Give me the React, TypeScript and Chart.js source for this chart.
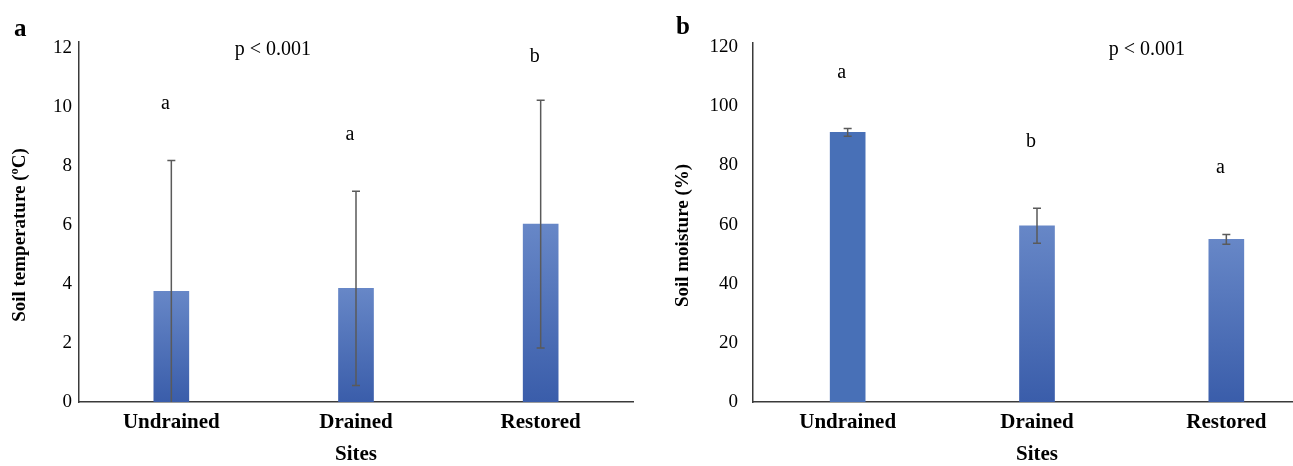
import React, { useEffect, useRef } from "react";
import { Chart, registerables } from "chart.js";
Chart.register(...registerables);

const categories = ["Undrained", "Drained", "Restored"];

const tempMeans = [3.75, 3.85, 6.03];
const tempErrors = [4.43, 3.29, 4.2];
const tempLetters = ["a", "a", "b"];
const tempLetterLevels = [10.1, 9.05, 11.7];
const tempTicks = [0, 2, 4, 6, 8, 10, 12];

const moistMeans = [91.2, 59.6, 55.0];
const moistErrors = [1.3, 5.9, 1.65];
const moistLetters = ["a", "b", "a"];
const moistLetterLevels = [111.5, 88.1, 79.3];
const moistTicks = [0, 20, 40, 60, 80, 100, 120];

const pText = "p < 0.001";

const SERIF = "'Liberation Serif', 'DejaVu Serif', serif";

type PanelOpts = {
  means: number[];
  errors: number[];
  letters: string[];
  letterLevels: number[];
  ticks: number[];
  yMax: number;
  yTitle: string;
  pPos: [number, number];
  solid: boolean[];
  yWidth: number;
  yTickPad: number;
  yTitleX: number;
  padTop: number;
  padRight: number;
};

function makeConfig(o: PanelOpts): any {
  const overlay = {
    id: "overlay",
    afterDatasetsDraw(chart: any) {
      const { ctx, chartArea, scales } = chart;
      const x = scales.x;
      const y = scales.y;
      const meta = chart.getDatasetMeta(0);
      ctx.save();
      ctx.beginPath();
      ctx.rect(chartArea.left, chartArea.top - 2, chartArea.right - chartArea.left, chartArea.bottom - chartArea.top + 2);
      ctx.clip();
      ctx.strokeStyle = "#5a5a5a";
      ctx.lineWidth = 1.5;
      o.means.forEach((m, i) => {
        const cx = meta.data[i].x;
        const yt = y.getPixelForValue(m + o.errors[i]);
        const yb = y.getPixelForValue(m - o.errors[i]);
        ctx.beginPath();
        ctx.moveTo(cx, yt);
        ctx.lineTo(cx, yb);
        ctx.moveTo(cx - 4, yt);
        ctx.lineTo(cx + 4, yt);
        ctx.moveTo(cx - 4, yb);
        ctx.lineTo(cx + 4, yb);
        ctx.stroke();
      });
      ctx.restore();
      ctx.save();
      ctx.fillStyle = "#000";
      ctx.textAlign = "center";
      ctx.textBaseline = "middle";
      ctx.font = `20px ${SERIF}`;
      o.letters.forEach((l, i) => {
        const cx = meta.data[i].x - 6;
        ctx.fillText(l, cx, y.getPixelForValue(o.letterLevels[i]));
      });
      ctx.fillText(pText, x.getPixelForValue(o.pPos[0]), y.getPixelForValue(o.pPos[1]));
      // y axis title, slightly below the plot centre as in the original
      ctx.font = `bold 19px ${SERIF}`;
      ctx.translate(o.yTitleX, (chartArea.top + chartArea.bottom) / 2 + 13);
      ctx.rotate(-Math.PI / 2);
      ctx.fillText(o.yTitle, 0, 0);
      ctx.restore();
    },
  };

  return {
    type: "bar",
    data: {
      labels: categories,
      datasets: [
        {
          data: o.means,
          barThickness: 35,
          backgroundColor: (c: any) => {
            const chart = c.chart;
            if (c.type !== "data" || !chart.chartArea) return "#4870b7";
            if (o.solid[c.dataIndex]) return "#4870b7";
            const y = chart.scales.y;
            const top = y.getPixelForValue(c.parsed.y);
            const bot = y.getPixelForValue(0);
            const g = chart.ctx.createLinearGradient(0, top, 0, bot);
            g.addColorStop(0, "#6787c7");
            g.addColorStop(1, "#3a5daa");
            return g;
          },
          borderWidth: 0,
        },
      ],
    },
    options: {
      responsive: false,
      animation: false,
      devicePixelRatio: 1,
      layout: { padding: { left: 0, top: o.padTop, right: o.padRight, bottom: 0 } },
      plugins: { legend: { display: false }, tooltip: { enabled: false } },
      scales: {
        x: {
          type: "category",
          offset: true,
          grid: { display: false, drawTicks: false },
          border: { display: true, color: "#3a3a3a", width: 1.5 },
          ticks: {
            color: "#000",
            font: { family: SERIF, size: 21, weight: "bold" },
            padding: 8,
            maxRotation: 0,
            autoSkip: false,
          },
          title: {
            display: true,
            text: "Sites",
            color: "#000",
            font: { family: SERIF, size: 21, weight: "bold" },
            padding: { top: 0, bottom: -1 },
          },
          afterFit: (s: any) => {
            s.height = 64;
          },
        },
        y: {
          min: 0,
          max: o.yMax,
          grid: { display: false, drawTicks: false },
          border: { display: true, color: "#3a3a3a", width: 1.5 },
          ticks: {
            color: "#000",
            font: { family: SERIF, size: 19 },
            padding: o.yTickPad,
          },
          afterBuildTicks: (s: any) => {
            s.ticks = o.ticks.map((v) => ({ value: v }));
          },
          title: { display: false },
          afterFit: (s: any) => {
            s.width = o.yWidth;
          },
        },
      },
    },
    plugins: [overlay],
  };
}

function Panel(props: { opts: PanelOpts; left: number; width: number }) {
  const ref = useRef<HTMLCanvasElement>(null);
  useEffect(() => {
    if (!ref.current) return;
    const chart = new Chart(ref.current, makeConfig(props.opts));
    return () => chart.destroy();
  }, []);
  return (
    <canvas
      ref={ref}
      width={props.width}
      height={466}
      style={{ position: "absolute", left: props.left, top: 0, width: props.width, height: 466 }}
    />
  );
}

const leftOpts: PanelOpts = {
  means: tempMeans,
  errors: tempErrors,
  letters: tempLetters,
  letterLevels: tempLetterLevels,
  ticks: tempTicks,
  yMax: 12.2,
  yTitle: "Soil temperature (ºC)",
  pPos: [0.55, 11.93],
  solid: [false, false, false],
  yWidth: 79,
  yTickPad: 7,
  yTitleX: 20,
  padTop: 42,
  padRight: 27,
};

const rightOpts: PanelOpts = {
  means: moistMeans,
  errors: moistErrors,
  letters: moistLetters,
  letterLevels: moistLetterLevels,
  ticks: moistTicks,
  yMax: 121.4,
  yTitle: "Soil moisture (%)",
  pPos: [1.58, 119],
  solid: [true, false, false],
  yWidth: 93,
  yTickPad: 15,
  yTitleX: 23,
  padTop: 43,
  padRight: 39,
};

export default function App() {
  const letterStyle: React.CSSProperties = {
    position: "absolute",
    fontFamily: SERIF,
    fontWeight: "bold",
    fontSize: 25,
    lineHeight: "25px",
    color: "#000",
  };
  return (
    <div
      style={{
        position: "fixed",
        left: 0,
        top: 0,
        width: 1293,
        height: 466,
        overflow: "hidden",
        background: "#fff",
      }}
    >
      <Panel opts={leftOpts} left={0} width={660} />
      <Panel opts={rightOpts} left={660} width={700} />
      <div style={{ ...letterStyle, left: 14, top: 15 }}>a</div>
      <div style={{ ...letterStyle, left: 676, top: 13 }}>b</div>
    </div>
  );
}
